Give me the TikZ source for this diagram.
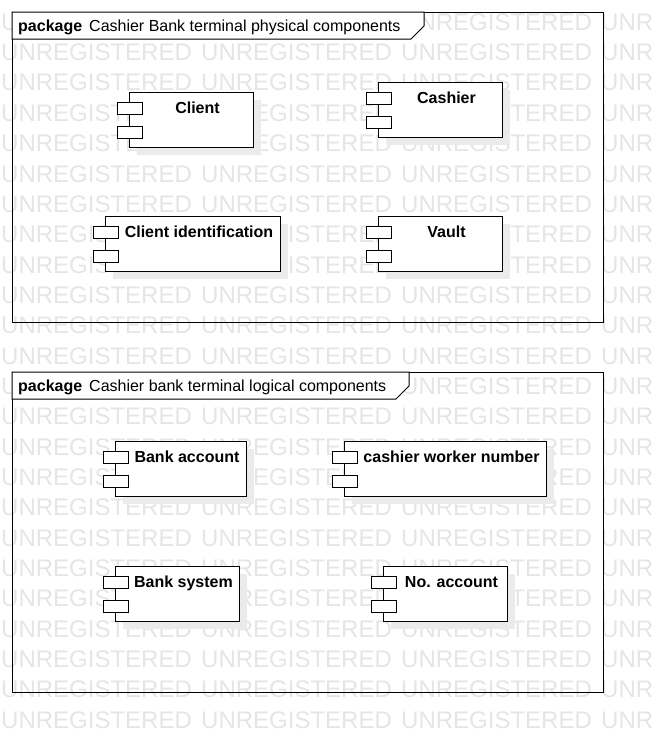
\documentclass[tikz,border=0pt]{standalone}
\usepackage{fontspec}
\setmainfont{Liberation Sans}
\tikzset{
  wm/.style={font=\fontsize{24}{28}\selectfont, text=black!10, anchor=west, inner sep=0pt},
  frame/.style={draw=black, line width=1pt, anchor=north west, inner sep=0pt},
  tabshape/.style={draw=black, fill=white, line width=1pt},
  kw/.style={font=\bfseries\fontsize{16}{19}\selectfont, anchor=base west, inner sep=0pt},
  pkgname/.style={font=\fontsize{16}{19}\selectfont, anchor=base west, inner sep=0pt},
  comp/.style={draw=black, fill=white, line width=1pt, minimum height=55pt, inner sep=0pt, anchor=north west},
  shadowbox/.style={fill=black!8, minimum height=55pt, inner sep=0pt, anchor=north west},
  port/.style={draw=black, fill=white, line width=1pt, minimum width=25pt, minimum height=12pt, inner sep=0pt, anchor=north west},
  lbl/.style={font=\bfseries\fontsize{16}{19}\selectfont, anchor=base, inner sep=0pt},
}
% name, left, top, right, text
\newcommand\mycomp[5]{%
  \node[shadowbox, minimum width={#4-#2}] (#1s) at ({#2+8},{#3+8}) {};
  \node[comp, minimum width={#4-#2}] (#1) at (#2,#3) {};
  \node[port] (#1p) at ({#2-12},{#3+10}) {};
  \node[port] (#1q) at ({#2-12},{#3+34}) {};
  \node[lbl] (#1t) at ({(#2+13+#4)/2},{#3+21}) {#5};
}
\begin{document}
\begin{tikzpicture}[x=1pt,y=-1pt]
\useasboundingbox (0,0) rectangle (652,742);
\clip (0,0) rectangle (652,742);
% watermark
\foreach \k in {0,...,23}{
  \foreach \i in {0,...,3}{
    \node[wm] (wm-\k-\i) at ({1+200*\i},{22+30.35*\k}) {UNREGISTERED};
  }
}
% package 1
\node[frame, minimum width=591pt, minimum height=310pt] (pkg1) at (12,12) {};
\draw[tabshape] (12,12) -- (424,12) -- (424,26) -- (411,39) -- (12,39) -- cycle;
\node[kw] (pkg1k) at (18,31) {package};
\node[pkgname] (pkg1n) at (89,31) {Cashier Bank terminal physical components};
% package 2
\node[frame, minimum width=591pt, minimum height=320pt] (pkg2) at (12,372) {};
\draw[tabshape] (12,372) -- (409,372) -- (409,386) -- (396,399) -- (12,399) -- cycle;
\node[kw] (pkg2k) at (18,391) {package};
\node[pkgname] (pkg2n) at (89,391) {Cashier bank terminal logical components};
% components
\mycomp{client}{129}{92}{253}{Client}
\mycomp{cashier}{378}{82}{502}{Cashier}
\mycomp{clientid}{105}{216}{280}{Client identification}
\mycomp{vault}{378}{216}{502}{Vault}
\mycomp{bankacc}{115}{441}{246}{Bank account}
\mycomp{cwn}{344}{441}{546}{cashier worker number}
\mycomp{banksys}{115}{566}{239}{Bank system}
\mycomp{noacc}{383}{566}{507}{No. account}
\end{tikzpicture}
\end{document}
